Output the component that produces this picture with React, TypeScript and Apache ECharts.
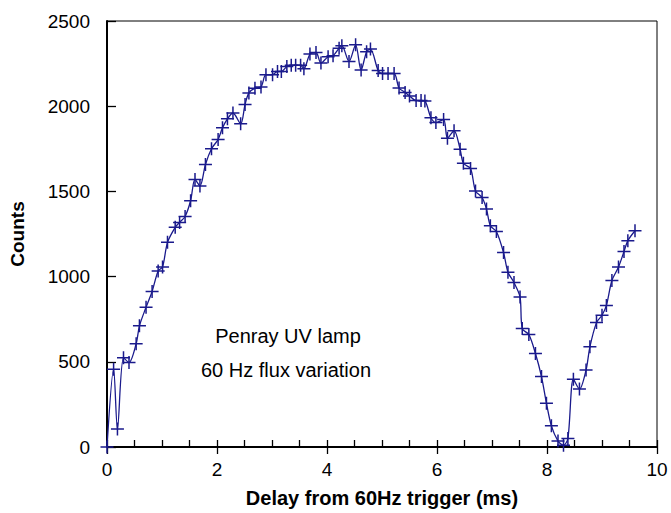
import React, { useEffect, useRef } from "react";
import * as echarts from "echarts";

// Delay from 60 Hz trigger (ms)
const delayMs = [
  0.0, 0.12, 0.19, 0.3, 0.4, 0.53, 0.59, 0.71, 0.82, 0.93,
  1.01, 1.1, 1.24, 1.32, 1.42, 1.52, 1.6, 1.69, 1.79, 1.9,
  2.02, 2.1, 2.19, 2.29, 2.43, 2.51, 2.58, 2.69, 2.8, 2.89,
  3.01, 3.1, 3.17, 3.27, 3.35, 3.43, 3.52, 3.58, 3.69, 3.8,
  3.89, 4.02, 4.11, 4.22, 4.27, 4.4, 4.52, 4.62, 4.72, 4.79,
  4.93, 5.01, 5.11, 5.22, 5.31, 5.42, 5.5, 5.62, 5.71, 5.78,
  5.89, 5.98, 6.12, 6.19, 6.31, 6.42, 6.48, 6.61, 6.7, 6.82,
  6.9, 6.97, 7.08, 7.21, 7.29, 7.4, 7.51, 7.55, 7.67, 7.79,
  7.9, 7.99, 8.08, 8.2, 8.3, 8.38, 8.48, 8.59, 8.71, 8.78,
  8.9, 9.0, 9.08, 9.18, 9.3, 9.4, 9.47, 9.6,
];

// Counts
const counts = [
  0, 457, 105, 524, 496, 606, 711, 820, 913, 1033,
  1057, 1201, 1289, 1318, 1353, 1445, 1570, 1532, 1658, 1750,
  1805, 1873, 1926, 1960, 1897, 2010, 2078, 2106, 2113, 2185,
  2185, 2204, 2204, 2233, 2240, 2240, 2240, 2220, 2306, 2315,
  2253, 2290, 2296, 2340, 2355, 2262, 2360, 2212, 2320, 2335,
  2210, 2192, 2192, 2192, 2107, 2081, 2060, 2033, 2033, 2030,
  1932, 1904, 1922, 1812, 1856, 1748, 1665, 1634, 1503, 1464,
  1396, 1298, 1265, 1141, 1026, 965, 880, 695, 660, 549,
  413, 257, 124, 35, 10, 50, 398, 340, 452, 588,
  730, 773, 831, 977, 1056, 1147, 1211, 1269,
];

const xTicks = [0, 2, 4, 6, 8, 10];
const yTicks = [0, 500, 1000, 1500, 2000, 2500];

const annotationLines = ["Penray UV lamp", "60 Hz flux variation"];

const FONT = "'Liberation Sans', Arial, Helvetica, sans-serif";
const INK = "#1a1a8c";

export default function App() {
  const ref = useRef<HTMLDivElement>(null);

  useEffect(() => {
    if (!ref.current) return;
    const chart = echarts.init(ref.current, null, { renderer: "svg" });
    const data = delayMs.map((x, i) => [x, counts[i]]);

    const plus =
      "path://M11.5,0 H14.5 V11.5 H26 V14.5 H14.5 V26 H11.5 V14.5 H0 V11.5 H11.5 Z";

    chart.setOption({
      animation: false,
      backgroundColor: "#ffffff",
      grid: {
        left: 105,
        right: 14,
        top: 21,
        bottom: 64,
        show: true,
        borderColor: "#000",
        borderWidth: 1,
        backgroundColor: "transparent",
      },
      xAxis: [
        {
          type: "value",
          min: xTicks[0],
          max: xTicks[xTicks.length - 1],
          interval: 2,
          position: "bottom",
          name: "Delay from 60Hz trigger (ms)",
          nameLocation: "middle",
          nameGap: 41,
          nameTextStyle: {
            fontFamily: FONT,
            fontSize: 20,
            fontWeight: "bold",
            color: "#000",
          },
          axisLine: { show: true, lineStyle: { color: "#000", width: 2 } },
          axisTick: {
            show: true,
            inside: false,
            length: 7,
            lineStyle: { color: "#000", width: 1.3 },
          },
          axisLabel: {
            fontFamily: FONT,
            fontSize: 19,
            color: "#000",
            margin: 13,
            formatter: (v: number) => String(v),
          },
          splitLine: { show: false },
        },
        {
          type: "value",
          min: 0,
          max: 10,
          interval: 0.5,
          position: "bottom",
          axisLine: { show: false },
          axisTick: {
            show: true,
            inside: true,
            length: 7,
            lineStyle: { color: "#000", width: 1.3 },
          },
          axisLabel: { show: false },
          splitLine: { show: false },
        },
      ],
      yAxis: {
        type: "value",
        min: yTicks[0],
        max: yTicks[yTicks.length - 1],
        interval: 500,
        name: "Counts",
        nameLocation: "middle",
        nameGap: 80,
        nameTextStyle: {
          fontFamily: FONT,
          fontSize: 19,
          fontWeight: "bold",
          color: "#000",
        },
        axisLine: { show: true, lineStyle: { color: "#000", width: 2 } },
        axisTick: {
          show: true,
          inside: true,
          length: 9,
          lineStyle: { color: "#000", width: 1.3 },
        },
        axisLabel: {
          fontFamily: FONT,
          fontSize: 19,
          color: "#000",
          margin: 17,
          formatter: (v: number) => String(v),
        },
        splitLine: { show: false },
      },
      graphic: [
        {
          type: "text",
          x: 288,
          y: 336,
          style: {
            text: annotationLines[0],
            fontFamily: FONT,
            fontSize: 20,
            fill: "#000",
            align: "center",
            verticalAlign: "middle",
          },
        },
        {
          type: "text",
          x: 286,
          y: 370,
          style: {
            text: annotationLines[1],
            fontFamily: FONT,
            fontSize: 20,
            fill: "#000",
            align: "center",
            verticalAlign: "middle",
          },
        },
      ],
      series: [
        {
          type: "line",
          xAxisIndex: 0,
          yAxisIndex: 0,
          data,
          smooth: 0.3,
          showSymbol: true,
          symbol: plus,
          symbolSize: 13,
          itemStyle: { color: INK },
          lineStyle: { color: INK, width: 1.3 },
          emphasis: { disabled: true },
        },
      ],
    });

    return () => chart.dispose();
  }, []);

  return (
    <div
      ref={ref}
      style={{ position: "fixed", left: 0, top: 0, width: 671, height: 513 }}
    />
  );
}
